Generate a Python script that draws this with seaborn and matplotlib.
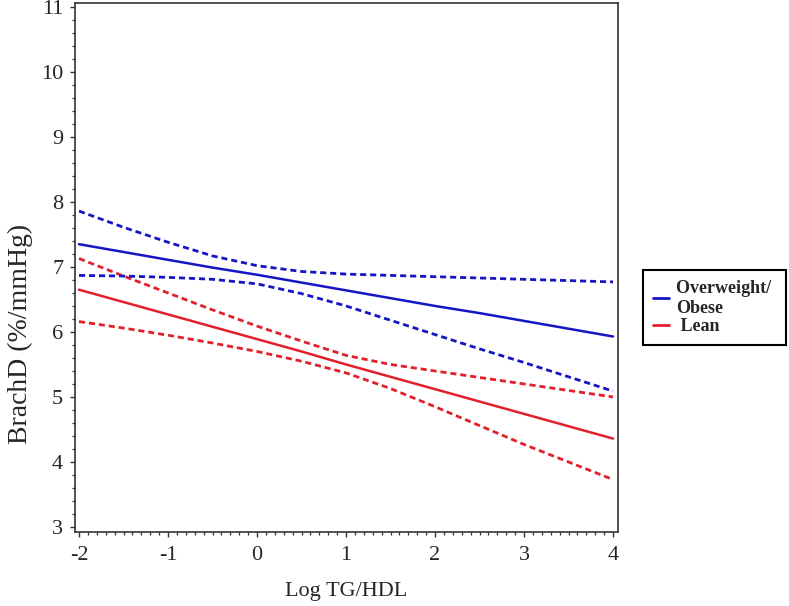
import matplotlib
matplotlib.use("Agg")
import matplotlib.pyplot as plt
from matplotlib.lines import Line2D
from matplotlib.ticker import MultipleLocator
import numpy as np
import pandas as pd
import seaborn as sns

# ---- data ----
log_tg_hdl = [-2.0, -1.5, -1.0, -0.5, 0.0, 0.5, 1.0, 1.5, 2.0, 2.5, 3.0, 3.5, 4.0]

obese_fit   = [7.35, 7.23, 7.11, 6.99, 6.88, 6.76, 6.64, 6.52, 6.40, 6.29, 6.17, 6.05, 5.93]
obese_upper = [7.86, 7.61, 7.38, 7.17, 7.02, 6.93, 6.89, 6.87, 6.85, 6.83, 6.81, 6.79, 6.77]
obese_lower = [6.87, 6.86, 6.84, 6.81, 6.74, 6.59, 6.40, 6.18, 5.96, 5.74, 5.53, 5.31, 5.09]

lean_fit   = [6.65, 6.46, 6.27, 6.08, 5.89, 5.70, 5.50, 5.31, 5.12, 4.93, 4.74, 4.55, 4.36]
lean_upper = [7.13, 6.86, 6.60, 6.34, 6.09, 5.86, 5.64, 5.50, 5.40, 5.30, 5.20, 5.10, 5.00]
lean_lower = [6.16, 6.06, 5.95, 5.83, 5.70, 5.55, 5.37, 5.13, 4.85, 4.56, 4.27, 4.00, 3.73]

groups = ["Overweight/\nObese", " Lean"]
x_ticks = [-2, -1, 0, 1, 2, 3, 4]
y_ticks = [3, 4, 5, 6, 7, 8, 9, 10, 11]

BLUE = "#1515c4"
RED = "#e2202a"

rows = []
for grp, series in [(groups[0], {"fit": obese_fit, "upper": obese_upper, "lower": obese_lower}),
                    (groups[1], {"fit": lean_fit, "upper": lean_upper, "lower": lean_lower})]:
    for kind, vals in series.items():
        for xv, yv in zip(log_tg_hdl, vals):
            rows.append({"x": xv, "y": yv, "group": grp, "kind": kind})
df = pd.DataFrame(rows)

sns.set_theme(style="white")
plt.rcParams["font.family"] = ["Liberation Serif", "DejaVu Serif"]

fig = plt.figure(figsize=(7.89, 6.06), dpi=100)
ax = fig.add_axes([75 / 789, 1 - 532 / 606, (618 - 75) / 789, (532 - 3) / 606])

palette = {groups[0]: BLUE, groups[1]: RED}
for kind, dash, lw in [("fit", None, 1.8), ("upper", (2.2, 1.4), 2.0), ("lower", (2.2, 1.4), 2.0)]:
    sub = df[df["kind"] == kind]
    sns.lineplot(data=sub, x="x", y="y", hue="group", palette=palette,
                 ax=ax, legend=False, linewidth=lw, estimator=None, sort=True)
    if dash is not None:
        for ln in ax.get_lines()[-2:]:
            ln.set_dashes(dash)

ax.set_xlim(-2.045, 4.056)
ax.set_ylim(2.923, 11.06)
ax.set_xticks(x_ticks)
ax.set_yticks(y_ticks)
ax.set_xticklabels([str(t) for t in x_ticks])
ax.set_yticklabels([str(t) for t in y_ticks])
ax.xaxis.set_minor_locator(MultipleLocator(0.1))
ax.yaxis.set_minor_locator(MultipleLocator(0.2))
ax.tick_params(axis="both", which="major", direction="out", length=3.5, width=1.0,
               color="#333333", labelsize=16, bottom=True, left=True)
ax.tick_params(axis="x", which="major", pad=6.5)
ax.tick_params(axis="y", which="major", pad=5)
ax.tick_params(axis="both", which="minor", direction="out", length=2.5, width=0.9,
               color="#333333", bottom=True, left=True)
for sp in ax.spines.values():
    sp.set_color("#333333")
    sp.set_linewidth(1.2)

ax.set_xlabel("Log TG/HDL", fontsize=16)
ax.set_ylabel("BrachD (%/mmHg)", fontsize=20)
ax.xaxis.set_label_coords(0.5, -0.094)
ax.yaxis.set_label_coords(-0.077, 0.375)

handles = [Line2D([0], [0], color=BLUE, lw=2.0), Line2D([0], [0], color=RED, lw=2.0)]
leg = fig.legend(handles, ["Overweight/ \nObese", " Lean"], loc="upper left",
                 bbox_to_anchor=(643 / 789, 1 - 270 / 606), bbox_transform=fig.transFigure,
                 borderaxespad=0, frameon=True, fancybox=False, framealpha=1,
                 prop={"family": "Liberation Serif", "weight": "bold", "size": 13},
                 handlelength=0.9, handletextpad=0.4, borderpad=0.55, labelspacing=0.1)
leg.get_frame().set_edgecolor("black")
leg.get_frame().set_linewidth(1.5)

fig.savefig("out.png", dpi=100)
